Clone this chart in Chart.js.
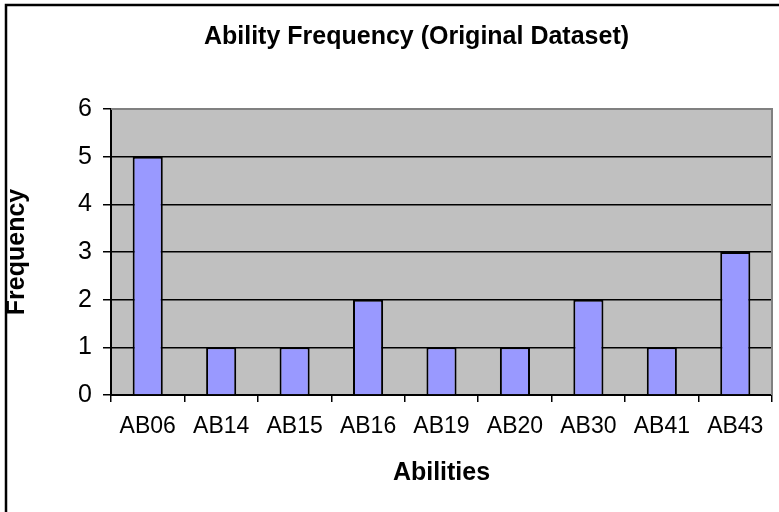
<!DOCTYPE html>
<html>
<head>
    <meta charset="UTF-8">
    <title>Ability Frequency</title>
    <script src="https://cdn.jsdelivr.net/npm/chart.js@4.4.0/dist/chart.umd.min.js"></script>
    <style>
      body { margin: 0; background: #fff; }
      .chart-container { position: relative; width: 779px; height: 512px; }
    </style>
</head>
<body>
    <div class="chart-container">
        <canvas id="myChart"></canvas>
    </div>

  <script>
      // values
      const abilities = ['AB06', 'AB14', 'AB15', 'AB16', 'AB19', 'AB20', 'AB30', 'AB41', 'AB43'];
      const frequency = [5, 1, 1, 2, 1, 1, 2, 1, 3];
      const yTicks = [0, 1, 2, 3, 4, 5, 6];

      const fontFamily = '"Liberation Sans", Arial, sans-serif';

      // excel-ish look: outer frame, grey plot area, grey top/right edge
      const excelFrame = {
          id: 'excelFrame',
          beforeDraw(chart) {
              const c = chart.ctx;
              const a = chart.chartArea;
              c.save();
              c.fillStyle = '#ffffff';
              c.fillRect(0, 0, chart.width, chart.height);
              c.strokeStyle = '#000000';
              c.lineWidth = 2.5;
              c.strokeRect(6, 5, chart.width + 40, chart.height + 40);
              c.fillStyle = '#c0c0c0';
              c.fillRect(a.left, a.top, a.right - a.left, a.bottom - a.top);
              c.restore();
          },
          beforeDatasetsDraw(chart) {
              const c = chart.ctx;
              const a = chart.chartArea;
              c.save();
              c.strokeStyle = '#808080';
              c.lineWidth = 2;
              c.beginPath();
              c.moveTo(a.left, a.top);
              c.lineTo(a.right, a.top);
              c.lineTo(a.right, a.bottom);
              c.stroke();
              c.restore();
          }
      };

      const ctx = document.getElementById('myChart').getContext('2d');
      const myChart = new Chart(ctx, {
          type: 'bar',
          data: {
              labels: abilities,
              datasets: [{
                  label: 'Frequency',
                  data: frequency,
                  backgroundColor: '#9999ff',
                  borderColor: '#000000',
                  borderWidth: 2,
                  barPercentage: 0.41,
                  categoryPercentage: 1.0
              }]
          },
          options: {
              responsive: true,
              maintainAspectRatio: false,
              animation: false,
              layout: {
                  padding: { left: 61, right: 7, top: 0, bottom: 0 }
              },
              plugins: {
                  legend: { display: false },
                  tooltip: { enabled: false },
                  title: {
                      display: true,
                      text: 'Ability Frequency (Original Dataset)',
                      color: '#000000',
                      font: { family: fontFamily, size: 25, weight: 'bold' },
                      padding: { top: 22, bottom: 57 }
                  }
              },
              scales: {
                  x: {
                      afterFit: (scale) => { scale.height = 117; },
                      border: { color: '#000000', width: 2 },
                      grid: {
                          drawOnChartArea: false,
                          color: '#000000',
                          lineWidth: 1.5,
                          tickLength: 7
                      },
                      ticks: {
                          color: '#000000',
                          font: { family: fontFamily, size: 23 },
                          padding: 11,
                          maxRotation: 0,
                          autoSkip: false
                      },
                      title: {
                          display: true,
                          text: 'Abilities',
                          color: '#000000',
                          font: { family: fontFamily, size: 25, weight: 'bold' },
                          padding: { top: 0, bottom: 24 }
                      }
                  },
                  y: {
                      min: 0,
                      max: 6,
                      afterFit: (scale) => { scale.width = 50; },
                      afterBuildTicks: (scale) => {
                          scale.ticks = yTicks.map(v => ({ value: v }));
                      },
                      border: { color: '#000000', width: 2 },
                      grid: {
                          color: (c) => c.tick && c.tick.value === 6 ? '#808080' : '#000000',
                          tickColor: '#000000',
                          lineWidth: 1.5,
                          tickLength: 8
                      },
                      ticks: {
                          color: '#000000',
                          font: { family: fontFamily, size: 25 },
                          padding: 11
                      },
                      title: {
                          display: true,
                          text: 'Frequency',
                          color: '#000000',
                          font: { family: fontFamily, size: 25, weight: 'bold' },
                          // axis box starts at x=61, pull the title back to the left edge
                          padding: { top: -59, bottom: 0 }
                      }
                  }
              }
          },
          plugins: [excelFrame]
      });
  </script>

</body>
</html>
